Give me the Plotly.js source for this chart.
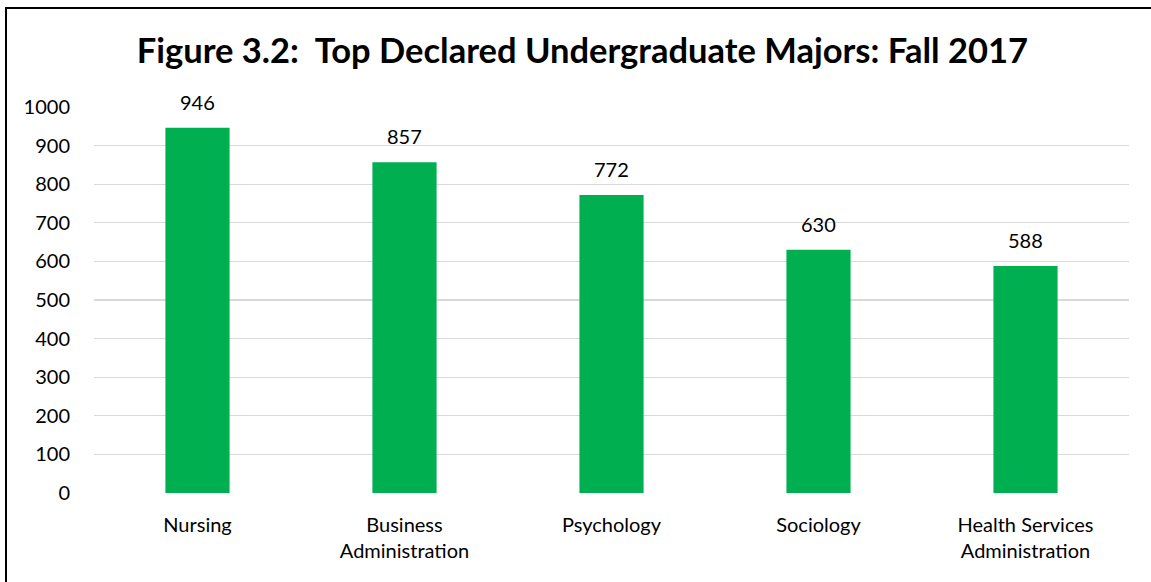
<!DOCTYPE html>
<html>
<head>
<meta charset="utf-8">
<script src="https://cdn.plot.ly/plotly-3.0.1.min.js"></script>
<style>
html,body{margin:0;padding:0;background:#fff;}
#wrap{position:relative;width:1151px;height:582px;overflow:hidden;}
#chart{position:absolute;left:0;top:0;width:1151px;height:582px;}
#frame{position:absolute;left:5px;top:7px;width:1200px;height:700px;border-left:2px solid #000;border-top:2px solid #000;pointer-events:none;}
</style>
</head>
<body>
<div id="wrap"><div id="chart"></div><div id="frame"></div></div>
<script>
const categories = ["Nursing", "Business<br>Administration", "Psychology", "Sociology", "Health Services<br>Administration"];
const values = [946, 857, 772, 630, 588];
const yTicks = [0, 100, 200, 300, 400, 500, 600, 700, 800, 900, 1000];

const font = "Lato, Carlito, Calibri, 'Open Sans', sans-serif";

const labels = categories.map((c, i) => ({
  x: c, y: values[i], xref: "x", yref: "y",
  text: String(values[i]), showarrow: false,
  yanchor: "bottom", yshift: 12,
  font: {family: font, size: 20, color: "#000"}
}));

Plotly.newPlot("chart", [{
  type: "bar",
  x: categories,
  y: values,
  marker: {color: "#00B050"},
  hoverinfo: "none"
}], {
  width: 1151, height: 582,
  margin: {l: 94, r: 22, t: 107, b: 89},
  paper_bgcolor: "#fff", plot_bgcolor: "#fff",
  bargap: 0.69,
  showlegend: false,
  annotations: labels,
  title: {text: "<b>Figure 3.2:  Top Declared Undergraduate Majors: Fall 2017</b>", font: {family: font, size: 34.5, color: "#000"}, x: 0.506, xanchor: "center", y: 0.913, yanchor: "middle"},
  xaxis: {type: "category", showgrid: false, zeroline: false, showline: false, ticks: "", tickfont: {family: font, size: 20, color: "#000"}, ticklabelstandoff: 18},
  yaxis: {range: [0, 1000], tickvals: yTicks, ticktext: yTicks.map(String), showgrid: true, gridcolor: "#d9d9d9", gridwidth: 1.3, zeroline: false, showline: false, ticks: "", tickfont: {family: font, size: 20, color: "#000"}, ticklabelstandoff: 23}
}, {displayModeBar: false, staticPlot: true});
</script>
</body>
</html>
